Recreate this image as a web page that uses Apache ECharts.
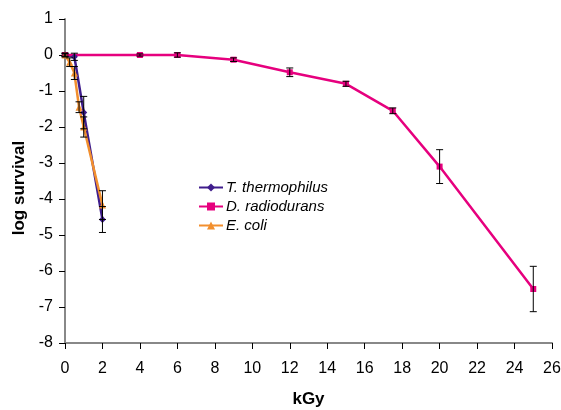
<!DOCTYPE html>
<html>
<head>
<meta charset="utf-8">
<script src="https://cdn.jsdelivr.net/npm/echarts@6/dist/echarts.min.js"></script>
<style>html,body{margin:0;padding:0;background:#fff;}#c{width:561px;height:410px;}</style>
</head>
<body>
<div id="c"></div>
<script>
// Data
var xT = [0, 0.5, 1, 2];
var yT = [0, -0.05, -1.6, -4.57];
var eT = [0.05, 0.1, 0.45, 0.36];

var xD = [0, 4, 6, 9, 12, 15, 17.5, 20, 25];
var yD = [0, 0, 0, -0.13, -0.48, -0.8, -1.55, -3.1, -6.5];
var eD = [0.03, 0.03, 0.06, 0.05, 0.12, 0.07, 0.08, 0.47, 0.63];

var xE = [0, 0.25, 0.5, 0.75, 1, 2];
var yE = [0, -0.2, -0.5, -1.45, -2.0, -4.17];
var eE = [0.05, 0.12, 0.18, 0.15, 0.28, 0.4];

var xTicks = [0, 2, 4, 6, 8, 10, 12, 14, 16, 18, 20, 22, 24, 26];
var yTicks = [-8, -7, -6, -5, -4, -3, -2, -1, 0, 1];

var names = ['T. thermophilus', 'D. radiodurans', 'E. coli'];
var colors = ['#3f1d8c', '#e6007e', '#f28f2e'];

function pts(xs, ys) { return xs.map(function (x, i) { return [x, ys[i]]; }); }
function errs(xs, ys, es) { return xs.map(function (x, i) { return [x, ys[i] - es[i], ys[i] + es[i]]; }); }

function errRender(params, api) {
  var x = api.value(0), lo = api.value(1), hi = api.value(2);
  var p1 = api.coord([x, hi]), p2 = api.coord([x, lo]);
  var hw = 3.5;
  var st = { stroke: '#000', lineWidth: 1 };
  return {
    type: 'group',
    children: [
      { type: 'line', shape: { x1: p1[0], y1: p1[1], x2: p2[0], y2: p2[1] }, style: st },
      { type: 'line', shape: { x1: p1[0] - hw, y1: p1[1], x2: p1[0] + hw, y2: p1[1] }, style: st },
      { type: 'line', shape: { x1: p2[0] - hw, y1: p2[1], x2: p2[0] + hw, y2: p2[1] }, style: st }
    ]
  };
}

var chart = echarts.init(document.getElementById('c'));
var font = 'Liberation Sans, Arial, sans-serif';

function lineSeries(i, xs, ys, sym, size) {
  return {
    name: names[i], type: 'line', data: pts(xs, ys),
    symbol: sym, symbolSize: size, showSymbol: true,
    lineStyle: { color: colors[i], width: 2.5 },
    itemStyle: { color: colors[i] },
    z: 2, animation: false
  };
}
function errSeries(i, xs, ys, es) {
  return {
    name: 'err' + i, type: 'custom', renderItem: errRender,
    data: errs(xs, ys, es), encode: { x: 0, y: [1, 2] }, z: 3, animation: false, silent: true
  };
}

chart.setOption({
  animation: false,
  backgroundColor: '#fff',
  textStyle: { fontFamily: font },
  grid: { left: 65, right: 9, top: 19, bottom: 67, containLabel: false, outerBoundsMode: 'none' },
  legend: {
    data: names, orient: 'vertical', left: 193, top: 175,
    itemWidth: 24, itemHeight: 10, itemGap: 4,
    textStyle: { fontFamily: font, fontSize: 15, fontStyle: 'italic', color: '#000', padding: [0, 0, 0, -2] }
  },
  xAxis: {
    type: 'value', min: xTicks[0], max: xTicks[xTicks.length - 1], interval: 2,
    name: 'kGy', nameLocation: 'middle', nameGap: 48,
    nameTextStyle: { fontFamily: font, fontSize: 17, fontWeight: 'bold', color: '#000' },
    axisLine: { onZero: false, lineStyle: { color: '#888', width: 2 } },
    axisTick: { show: true, length: 6, lineStyle: { color: '#000', width: 1 } },
    axisLabel: { fontFamily: font, fontSize: 16, color: '#000', margin: 18 },
    splitLine: { show: false }
  },
  yAxis: {
    type: 'value', min: yTicks[0], max: yTicks[yTicks.length - 1], interval: 1,
    name: 'log survival', nameLocation: 'middle', nameGap: 33, nameRotate: 90,
    nameTextStyle: { fontFamily: font, fontSize: 17, fontWeight: 'bold', color: '#000', padding: [0, 14, 0, 0] },
    axisLine: { show: true, lineStyle: { color: '#888', width: 2 } },
    axisTick: { show: true, length: 6, lineStyle: { color: '#000', width: 1 } },
    axisLabel: { fontFamily: font, fontSize: 16, color: '#000', margin: 12 },
    splitLine: { show: false }
  },
  series: [
    lineSeries(0, xT, yT, 'diamond', 7),
    lineSeries(1, xD, yD, 'rect', 6),
    lineSeries(2, xE, yE, 'triangle', 7),
    errSeries(0, xT, yT, eT),
    errSeries(1, xD, yD, eD),
    errSeries(2, xE, yE, eE)
  ]
});
</script>
</body>
</html>
